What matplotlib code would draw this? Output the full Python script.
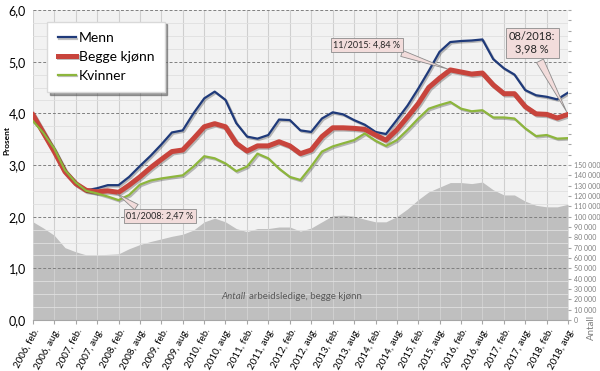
import matplotlib
matplotlib.use("Agg")
import matplotlib.pyplot as plt
import matplotlib.patheffects as pe
import pandas as pd

plt.rcParams["font.family"] = ["Lato", "DejaVu Sans"]

# quarterly readings, 2006 feb .. 2018 aug
dates = pd.date_range("2006-02-01", "2018-08-01", freq="3MS")

menn = [3.98, 3.65, 3.28, 2.88, 2.62, 2.51, 2.55, 2.61, 2.61, 2.77,
        2.98, 3.18, 3.40, 3.63, 3.67, 4.00, 4.29, 4.42, 4.26, 3.81,
        3.55, 3.51, 3.58, 3.88, 3.87, 3.67, 3.64, 3.90, 4.02, 3.98,
        3.87, 3.78, 3.64, 3.60, 3.87, 4.15, 4.48, 4.82, 5.19, 5.38,
        5.40, 5.41, 5.43, 5.05, 4.87, 4.75, 4.45, 4.35, 4.32, 4.27,
        4.40]
begge = [3.97, 3.62, 3.26, 2.87, 2.64, 2.51, 2.48, 2.50, 2.47, 2.61,
         2.77, 2.95, 3.11, 3.26, 3.29, 3.51, 3.74, 3.80, 3.74, 3.42,
         3.27, 3.37, 3.37, 3.45, 3.37, 3.22, 3.29, 3.55, 3.72, 3.72,
         3.71, 3.69, 3.58, 3.48, 3.68, 3.93, 4.19, 4.50, 4.68, 4.84,
         4.80, 4.76, 4.78, 4.55, 4.38, 4.38, 4.13, 3.99, 3.98, 3.91,
         3.98]
kvinner = [3.85, 3.62, 3.32, 2.90, 2.66, 2.50, 2.45, 2.39, 2.32, 2.42,
           2.62, 2.70, 2.74, 2.77, 2.80, 2.97, 3.17, 3.13, 3.03, 2.88,
           2.97, 3.22, 3.13, 2.93, 2.77, 2.71, 2.97, 3.26, 3.36, 3.42,
           3.48, 3.61, 3.47, 3.37, 3.48, 3.68, 3.90, 4.09, 4.16, 4.22,
           4.09, 4.04, 4.06, 3.92, 3.92, 3.90, 3.71, 3.56, 3.58, 3.51,
           3.52]
antall = [95000, 89000, 82000, 70000, 66000, 63000, 63000, 63500, 64000, 69000,
          73000, 76000, 78500, 81000, 83000, 87000, 95000, 98500, 95000, 88500,
          85500, 88500, 88500, 90000, 90000, 86000, 89000, 95000, 101000, 101500,
          100500, 97500, 95000, 95000, 100000, 107500, 116500, 124000, 128500, 133000,
          133000, 132000, 133500, 126000, 121000, 121000, 115000, 111000, 109500, 109500,
          112000]

notes = [("2008-01-01", 2.47, "01/2008: 2,47 %"),
         ("2015-11-01", 4.84, "11/2015: 4,84 %"),
         ("2018-08-01", 3.98, "08/2018:\n3,98 %")]

fig = plt.figure(figsize=(6, 3.71), dpi=100)
ax = fig.add_axes([33 / 600, 51 / 371, 535 / 600, 310 / 371])
ax2 = ax.twinx()

# count area on the secondary axis, behind the percent lines
ax2.set_facecolor("#f2f2f2")
ax2.patch.set_visible(True)
ax2.fill_between(dates, antall, color="#bfbfbf", lw=0)
ax2.set_ylim(0, 300000)
ax2.set_yticks(range(0, 300001, 10000))
ax2.set_yticklabels([f"{v:,}".replace(",", " ") if v <= 150000 else "" for v in range(0, 300001, 10000)])
ax2.tick_params(axis="y", length=2, color="#a6a6a6", labelsize=5, labelcolor="#7f7f7f", pad=2)
for s in ax2.spines.values():
    s.set_visible(False)

ax.set_zorder(ax2.get_zorder() + 1)
ax.patch.set_visible(False)

shadow = [pe.SimpleLineShadow(offset=(1, -1), shadow_color="black", alpha=0.25), pe.Normal()]
ax.plot(dates, menn, color="#1f3a7a", lw=1.6, label="Menn", path_effects=shadow)
ax.plot(dates, begge, color="#c8443c", lw=3.6, label="Begge kjønn", path_effects=shadow)
ax.plot(dates, kvinner, color="#8db63c", lw=1.6, label="Kvinner", path_effects=shadow)

ax.set_ylim(0, 6)
ax.set_xlim(dates[0], dates[-1])
ax.set_yticks(range(7))
ax.set_yticklabels([f"{v},0" for v in range(7)], fontsize=9)
ax.set_yticks([i * 0.25 for i in range(25)], minor=True)
ax.tick_params(axis="y", which="both", length=0, pad=5)

ticks = pd.date_range("2006-02-01", "2018-08-01", freq="6MS")
mnd = {2: "feb.", 8: "aug."}
ax.set_xticks(ticks)
ax.set_xticklabels([f"{d.year}, {mnd[d.month]}" for d in ticks], rotation=62,
                   ha="right", rotation_mode="anchor", fontsize=7)
ax.tick_params(axis="x", length=3, color="#a6a6a6", pad=2)

ax.grid(axis="x", color="#cfcfcf", lw=0.8)
ax.grid(axis="y", which="minor", color="#e0e0e0", lw=0.6)
ax.grid(axis="y", which="major", color="#808080", lw=0.7, linestyle=(0, (3, 2)))
ax.set_axisbelow(True)
for s in ["left", "right", "top"]:
    ax.spines[s].set_visible(False)
ax.spines["bottom"].set_color("#a6a6a6")

ax.set_ylabel("Prosent", fontsize=6, fontweight="bold")
ax.yaxis.set_label_coords(-0.043, 0.58)
fig.text(591 / 600, 1 - 327 / 371, "Antall", rotation=90, fontsize=7, color="#7f7f7f",
         ha="center", va="center")

ax.text(0.398, 0.077, "Antall", style="italic", fontsize=7, color="#595959", ha="right",
        va="center", transform=ax.transAxes)
ax.text(0.403, 0.077, "arbeidsledige, begge kjønn", fontsize=7, color="#595959", ha="left",
        va="center", transform=ax.transAxes)

boxes = [((0.237, 0.335), (0.25, 1.0), 6.5), ((0.624, 0.887), (0.85, 0.0), 6.5),
         ((0.933, 0.894), (0.6, 0.0), 8)]
for (d, v, txt), (pos, rel, fs) in zip(notes, boxes):
    ax.annotate(txt, xy=(pd.Timestamp(d), v), xytext=pos, textcoords="axes fraction",
                ha="center", va="center", fontsize=fs, color="#262626",
                bbox=dict(boxstyle="square,pad=0.3", fc="#f2dcdb", ec="#8c8c8c", lw=0.6),
                arrowprops=dict(arrowstyle="wedge,tail_width=0.7,shrink_factor=0.5",
                                fc="#f2dcdb", ec="#8c8c8c", lw=0.6, relpos=rel))

leg = ax.legend(loc="upper left", bbox_to_anchor=(0.014, 0.985), fontsize=10,
                handlelength=1.3, handletextpad=0.2, labelspacing=0.5,
                fancybox=False, shadow=True, framealpha=1, edgecolor="#d9d9d9",
                borderpad=0.75)

fig.savefig("out.png", dpi=100)
